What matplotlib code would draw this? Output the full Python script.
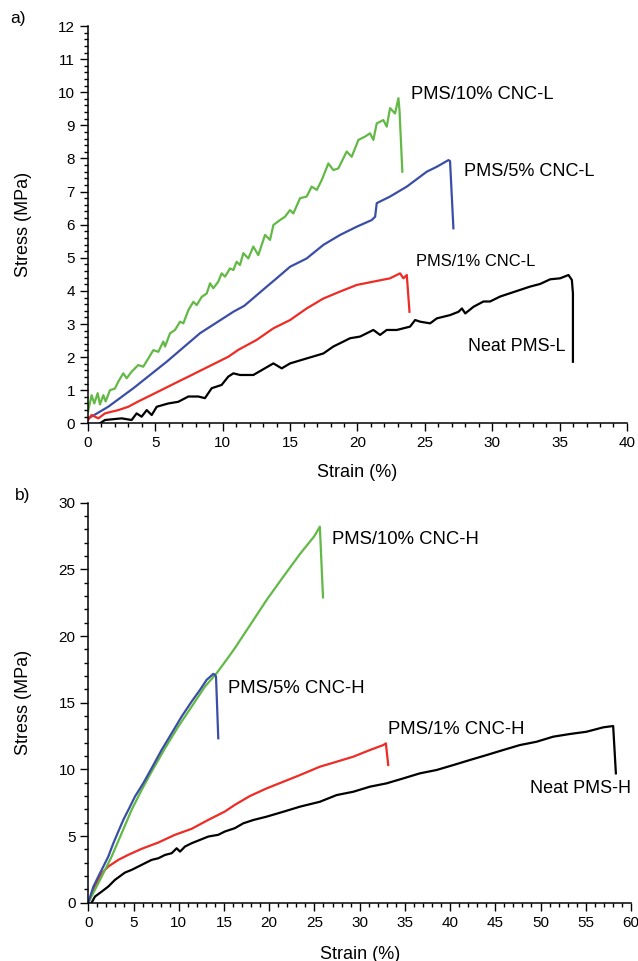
import matplotlib.pyplot as plt
from matplotlib.ticker import MultipleLocator

plt.rcParams['font.family'] = ['Liberation Sans', 'DejaVu Sans']

# ---- panel a) : CNC-L series ----
green_L_x = [0, 0.27, 0.47, 0.72, 0.89, 1.14, 1.31, 1.63, 2.0, 2.25, 2.62, 2.87, 3.24, 3.73, 4.1,
             4.48, 4.85, 5.22, 5.59, 5.72, 6.09, 6.46, 6.83, 7.08, 7.45, 7.82, 8.07, 8.44, 8.81,
             9.06, 9.3, 9.67, 9.92, 10.17, 10.54, 10.79, 11.03, 11.28, 11.53, 11.9, 12.27, 12.64,
             13.14, 13.51, 13.76, 14.25, 14.62, 14.99, 15.24, 15.74, 16.23, 16.6, 16.98, 17.35,
             17.84, 18.21, 18.58, 19.2, 19.57, 20.07, 20.56, 20.93, 21.18, 21.43, 21.92, 22.17,
             22.42, 22.79, 23.04, 23.12, 23.33]
green_L_y = [0.35, 0.85, 0.60, 0.91, 0.57, 0.85, 0.66, 1.0, 1.05, 1.26, 1.51, 1.36, 1.56, 1.76, 1.71,
             1.96, 2.21, 2.16, 2.47, 2.32, 2.72, 2.82, 3.07, 3.02, 3.42, 3.67, 3.57, 3.82, 3.92,
             4.23, 4.08, 4.28, 4.53, 4.43, 4.68, 4.63, 4.88, 4.78, 5.14, 4.98, 5.34, 5.08,
             5.69, 5.54, 5.99, 6.14, 6.24, 6.44, 6.34, 6.80, 6.85, 7.15, 7.05, 7.35,
             7.85, 7.65, 7.70, 8.21, 8.05, 8.56, 8.66, 8.76, 8.56, 9.06, 9.16, 8.96,
             9.52, 9.36, 9.82, 9.45, 7.60]

blue_L_x = [0, 0.42, 1.5, 3.37, 5.84, 8.31, 10.79, 11.6, 13.27, 14.0, 15.0, 16.23, 17.47, 18.71,
            19.95, 21.06, 21.31, 21.43, 22.42, 23.66, 24.65, 25.14, 25.89, 26.75, 26.87, 27.12]
blue_L_y = [0.15, 0.24, 0.50, 1.06, 1.86, 2.72, 3.37, 3.55, 4.13, 4.38, 4.73, 4.98, 5.39, 5.69,
            5.94, 6.14, 6.24, 6.65, 6.85, 7.15, 7.45, 7.60, 7.75, 7.95, 7.92, 5.89]

red_L_x = [0, 0.27, 0.77, 1.26, 2.25, 2.99, 3.73, 4.48, 5.22, 5.96, 6.7, 7.45, 8.19, 8.93, 9.67,
           10.41, 11.16, 12.52, 13.76, 15.0, 16.23, 17.47, 18.71, 19.95, 21.18, 22.42, 23.16,
           23.41, 23.66, 23.86]
red_L_y = [0.10, 0.25, 0.15, 0.30, 0.40, 0.50, 0.66, 0.81, 0.96, 1.11, 1.26, 1.41, 1.56, 1.71, 1.86,
           2.01, 2.22, 2.52, 2.87, 3.12, 3.47, 3.77, 3.98, 4.18, 4.28, 4.38, 4.53,
           4.38, 4.48, 3.37]

black_L_x = [0.89, 1.26, 2.5, 3.24, 3.61, 3.98, 4.36, 4.73, 5.1, 5.96, 6.7, 7.45, 8.19, 8.68, 9.18,
             9.92, 10.41, 10.79, 11.28, 12.27, 13.76, 14.38, 15.0, 16.23, 17.47, 18.21, 18.71,
             19.45, 20.19, 21.18, 21.68, 22.17, 22.92, 23.9, 24.28, 24.65, 25.39, 25.89, 26.88,
             27.5, 27.75, 28.0, 28.61, 29.35, 29.84, 30.59, 31.33, 32.07, 32.81, 33.56, 34.3,
             35.04, 35.66, 35.91, 35.99, 35.99]
black_L_y = [0.0, 0.10, 0.15, 0.10, 0.30, 0.20, 0.40, 0.25, 0.50, 0.60, 0.65, 0.81, 0.81, 0.76, 1.06,
             1.16, 1.41, 1.51, 1.46, 1.46, 1.81, 1.66, 1.81, 1.96, 2.11, 2.32, 2.42,
             2.57, 2.62, 2.82, 2.67, 2.82, 2.82, 2.92, 3.12, 3.07, 3.02, 3.17, 3.27,
             3.37, 3.47, 3.32, 3.52, 3.68, 3.68, 3.83, 3.93, 4.03, 4.13, 4.21, 4.35,
             4.38, 4.48, 4.33, 3.93, 1.86]

# ---- panel b) : CNC-H series ----
green_H_x = [0, 1.48, 2.58, 3.69, 4.79, 5.9, 7.0, 8.48, 9.95, 11.43, 12.9, 14.19, 15.48, 16.21,
             17.87, 19.71, 21.56, 23.4, 25.0, 25.6, 25.95]
green_H_y = [0, 1.96, 3.46, 5.21, 6.96, 8.46, 9.83, 11.58, 13.21, 14.71, 16.21, 17.21, 18.4, 19.1,
             20.8, 22.7, 24.45, 26.15, 27.5, 28.2, 22.9]

blue_H_x = [0, 0.56, 1.11, 1.66, 2.21, 2.77, 3.32, 3.87, 4.43, 5.16, 6.08, 7.0, 8.11, 9.22,
            10.32, 11.43, 12.35, 13.08, 13.82, 14.0, 14.12, 14.37]
blue_H_y = [0, 1.2, 1.96, 2.71, 3.46, 4.46, 5.34, 6.21, 6.96, 7.96, 8.96, 10.08, 11.46, 12.71,
            13.96, 15.09, 15.96, 16.71, 17.16, 17.09, 16.96, 12.33]

red_H_x = [0, 0.56, 1.11, 1.66, 2.21, 3.32, 4.43, 5.9, 7.74, 9.58, 11.43, 13.27, 15.11, 16.21,
           17.87, 19.71, 21.56, 23.4, 25.61, 27.45, 29.3, 31.14, 32.61, 32.9, 33.16]
red_H_y = [0, 0.96, 1.71, 2.33, 2.71, 3.21, 3.59, 4.04, 4.51, 5.09, 5.54, 6.21, 6.84, 7.34,
           8.0, 8.57, 9.07, 9.57, 10.2, 10.57, 10.95, 11.45, 11.82, 11.95, 10.32]

black_H_x = [0.37, 0.74, 1.48, 2.21, 2.95, 3.69, 4.06, 4.79, 5.53, 6.26, 7.0, 7.74, 8.48, 9.22,
             9.77, 10.14, 10.69, 11.43, 12.35, 13.27, 14.37, 15.11, 16.21, 17.13, 18.24, 19.71,
             21.56, 23.4, 25.61, 27.45, 29.3, 31.14, 32.98, 34.82, 36.66, 38.5, 40.35, 42.19,
             44.03, 45.87, 47.71, 49.56, 51.4, 53.24, 55.08, 56.93, 58.03, 58.33]
black_H_y = [0, 0.46, 0.83, 1.21, 1.71, 2.08, 2.26, 2.46, 2.71, 2.96, 3.21, 3.33, 3.58, 3.71,
             4.08, 3.83, 4.21, 4.46, 4.71, 4.96, 5.09, 5.34, 5.59, 5.95, 6.2, 6.45,
             6.82, 7.2, 7.57, 8.07, 8.32, 8.7, 8.95, 9.32, 9.7, 9.95, 10.32, 10.7,
             11.07, 11.45, 11.82, 12.07, 12.45, 12.65, 12.82, 13.15, 13.25, 9.7]

c_green = "#63b946"
c_blue = "#3a4ea6"
c_red = "#ee2b24"
c_black = "black"
lw = 1.6

fig = plt.figure(figsize=(6.38, 9.61), dpi=100)
ax1 = fig.add_axes([0.1379, 0.5595, 0.8448, 0.4134])
ax2 = fig.add_axes([0.1384, 0.0607, 0.8506, 0.4162])

ax1.plot(green_L_x, green_L_y, color=c_green, lw=lw)
ax1.plot(blue_L_x, blue_L_y, color=c_blue, lw=lw)
ax1.plot(red_L_x, red_L_y, color=c_red, lw=lw)
ax1.plot(black_L_x, black_L_y, color=c_black, lw=lw)

ax2.plot(black_H_x, black_H_y, color=c_black, lw=lw)
ax2.plot(red_H_x, red_H_y, color=c_red, lw=lw)
ax2.plot(green_H_x, green_H_y, color=c_green, lw=lw)
ax2.plot(blue_H_x, blue_H_y, color=c_blue, lw=lw)

ax1.text(24.0, 9.92, "PMS/10% CNC-L", fontsize=13.2, va="center")
ax1.text(27.87, 7.60, "PMS/5% CNC-L", fontsize=13.1, va="center")
ax1.text(24.35, 4.88, "PMS/1% CNC-L", fontsize=11.9, va="center")
ax1.text(28.2, 2.31, "Neat PMS-L", fontsize=12.9, va="center")

ax2.text(26.9, 27.25, "PMS/10% CNC-H", fontsize=13.3, va="center")
ax2.text(15.5, 16.08, "PMS/5% CNC-H", fontsize=13.3, va="center")
ax2.text(33.16, 13.0, "PMS/1% CNC-H", fontsize=13.3, va="center")
ax2.text(48.8, 8.58, "Neat PMS-H", fontsize=13.0, va="center")

ax1.set_xlim(0, 40)
ax1.set_ylim(0, 12)
ax1.xaxis.set_major_locator(MultipleLocator(5))
ax1.xaxis.set_minor_locator(MultipleLocator(1))
ax1.yaxis.set_major_locator(MultipleLocator(1))
ax1.yaxis.set_minor_locator(MultipleLocator(0.2))

ax2.set_xlim(0, 60)
ax2.set_ylim(0, 30)
ax2.xaxis.set_major_locator(MultipleLocator(5))
ax2.xaxis.set_minor_locator(MultipleLocator(1))
ax2.yaxis.set_major_locator(MultipleLocator(5))
ax2.yaxis.set_minor_locator(MultipleLocator(1))

for ax in (ax1, ax2):
    ax.spines["top"].set_visible(False)
    ax.spines["right"].set_visible(False)
    ax.spines["left"].set_linewidth(1.1)
    ax.spines["bottom"].set_linewidth(1.1)
    ax.tick_params(which="major", direction="out", length=5.8, width=1.0,
                   labelsize=11, pad=3.5)
    ax.tick_params(which="minor", direction="out", length=2.9, width=1.0)
    ax.set_xlabel("Strain (%)", fontsize=13)
    ax.set_ylabel("Stress (MPa)", fontsize=13)

ax1.xaxis.set_label_coords(0.5, -0.102)
ax1.yaxis.set_label_coords(-0.104, 0.5)
ax2.xaxis.set_label_coords(0.5, -0.108)
ax2.yaxis.set_label_coords(-0.103, 0.5)
ax1.xaxis.label.set_va("top")
ax2.xaxis.label.set_va("top")

fig.text(10 / 638, 1 - 18 / 961, "a)", fontsize=12.5, va="center")
fig.text(15 / 638, 1 - 495 / 961, "b)", fontsize=12.5, va="center")

fig.savefig("out.png", dpi=100)
